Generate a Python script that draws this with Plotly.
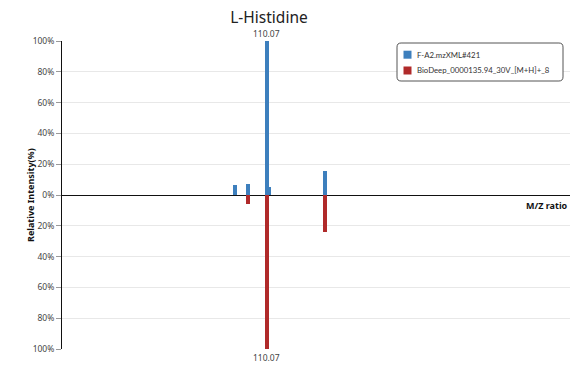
import plotly.graph_objects as go

# Mirror spectrum data: sample spectrum (up) vs library spectrum (down)
sample_name = "F-A2.mzXML#421"
library_name = "BioDeep_0000135.94_30V_[M+H]+_8"
sample_mz = [85.1, 95.1, 110.07, 111.6, 156.08]
sample_int = [6.5, 7.0, 100.0, 5.0, 15.8]
library_mz = [95.1, 110.07, 156.08]
library_int = [6.0, 100.0, 23.8]
peak_label = "110.07"
ytick_vals = [100, 80, 60, 40, 20, 0, -20, -40, -60, -80, -100]
ytick_text = ["100%", "80%", "60%", "40%", "20%", "0%", "20%", "40%", "60%", "80%", "100%"]

blue = "#3d7fbd"
red = "#b02a2a"
font = "Noto Sans"

# plot area in pixels (used to place the custom legend box)
L, R, T, B = 62, 570, 41, 349
W, H = 576, 366


def px_x(p):
    return (p - L) / (R - L)


def px_y(p):
    return (B - p) / (B - T)


fig = go.Figure()
fig.add_trace(go.Bar(
    x=sample_mz, y=sample_int, name=sample_name, showlegend=False,
    marker=dict(color=blue, line=dict(width=0)), width=3.1,
))
fig.add_trace(go.Bar(
    x=library_mz, y=[-v for v in library_int], name=library_name,
    showlegend=False,
    marker=dict(color=red, line=dict(width=0)), width=3.1,
))

top_i = sample_int.index(max(sample_int))
bot_i = library_int.index(max(library_int))
fig.add_annotation(x=sample_mz[top_i], y=sample_int[top_i], text=peak_label,
                   showarrow=False, yanchor="bottom", yshift=0,
                   font=dict(size=8.5, color="#444"))
fig.add_annotation(x=library_mz[bot_i], y=-library_int[bot_i], text=peak_label,
                   showarrow=False, yanchor="top", yshift=-1,
                   font=dict(size=8.5, color="#444"))
fig.add_annotation(x=1, xref="paper", y=0, yref="y", text="<b>M/Z ratio</b>",
                   showarrow=False, xanchor="right", yanchor="top", yshift=-2,
                   font=dict(size=9, color="#111"))
fig.add_annotation(x=px_x(30), xref="paper", y=0.5, yref="paper",
                   text="<b>Relative Intensity(%)</b>", textangle=-90,
                   showarrow=False, xanchor="center", yanchor="middle",
                   font=dict(size=9, color="#111"))

# Legend: rounded box, colour swatches and series names
bx0, bx1, by0, by1, r = px_x(397), px_x(563), px_y(43), px_y(81), 0.008
ry = r * (R - L) / (B - T)
fig.add_shape(
    type="path", xref="paper", yref="paper",
    path=(f"M {bx0 + r},{by0} L {bx1 - r},{by0} Q {bx1},{by0} {bx1},{by0 - ry} "
          f"L {bx1},{by1 + ry} Q {bx1},{by1} {bx1 - r},{by1} "
          f"L {bx0 + r},{by1} Q {bx0},{by1} {bx0},{by1 + ry} "
          f"L {bx0},{by0 - ry} Q {bx0},{by0} {bx0 + r},{by0} Z"),
    line=dict(color="#555", width=1), fillcolor="white", layer="above",
)
for name, color, cy in [(sample_name, blue, 54.7), (library_name, red, 70.5)]:
    fig.add_shape(type="rect", xref="paper", yref="paper",
                  x0=px_x(403.5), x1=px_x(411.5), y0=px_y(cy - 4), y1=px_y(cy + 4),
                  fillcolor=color, line=dict(width=0), layer="above")
    fig.add_annotation(x=px_x(415), y=px_y(cy), xref="paper", yref="paper",
                       text=name, showarrow=False, xanchor="left",
                       yanchor="middle",
                       font=dict(size=7.8, color="#333", family="Lato"))

fig.update_layout(
    width=W, height=H,
    margin=dict(l=L, r=W - R, t=T, b=H - B, autoexpand=False),
    paper_bgcolor="white", plot_bgcolor="white",
    font=dict(family=font, color="#333"),
    barmode="overlay", bargap=0,
    showlegend=False,
    title=dict(text="L-Histidine", x=269 / 576, xanchor="center",
               y=1 - 18 / 366, yanchor="middle",
               font=dict(size=15.5, color="#222")),
    xaxis=dict(range=[-50.6, 348.1], showticklabels=False, ticks="",
               showgrid=False, zeroline=False, showline=False),
    yaxis=dict(range=[-100, 100], tickvals=ytick_vals, ticktext=ytick_text,
               ticks="outside", ticklen=5, tickcolor="#999",
               tickfont=dict(size=8.5, color="#444"),
               showgrid=True, gridcolor="#e8e8e8", gridwidth=1,
               zeroline=True, zerolinecolor="#111", zerolinewidth=1,
               showline=True, linecolor="#111", linewidth=1),
)

fig.write_html("out.html")
